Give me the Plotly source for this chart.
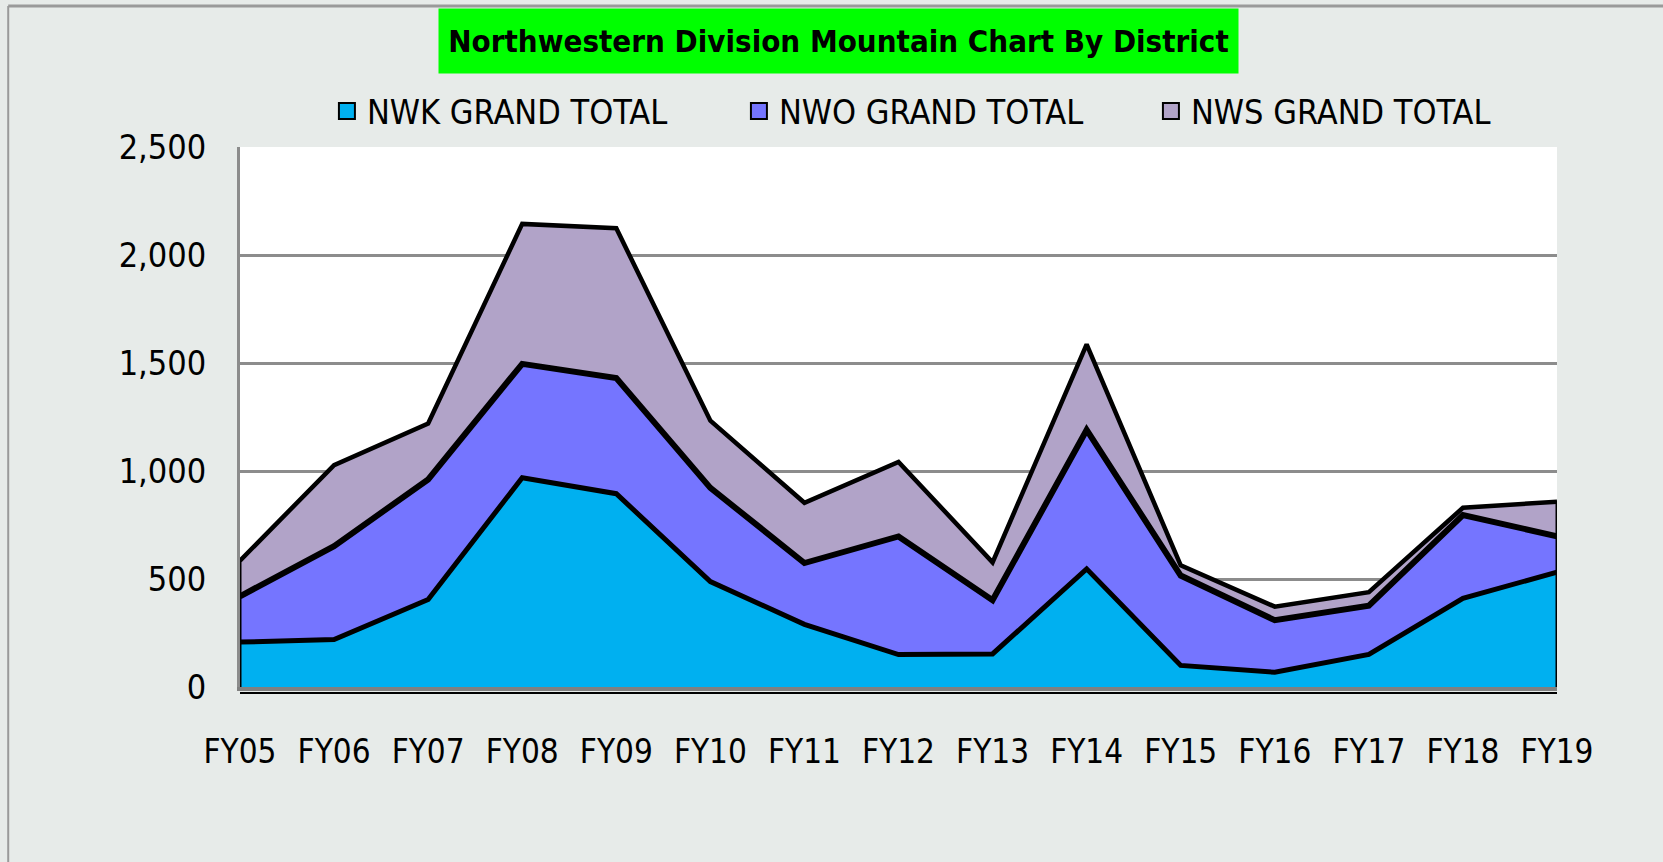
import plotly.graph_objects as go

categories = ["FY05", "FY06", "FY07", "FY08", "FY09", "FY10", "FY11", "FY12",
              "FY13", "FY14", "FY15", "FY16", "FY17", "FY18", "FY19"]
nwk = [208, 220, 405, 969, 895, 488, 290, 150, 153, 547, 100, 68, 151, 410, 532]
nwo = [212, 432, 556, 527, 535, 434, 284, 547, 249, 643, 416, 241, 225, 386, 166]
nws = [165, 375, 259, 648, 694, 311, 279, 345, 175, 396, 47, 63, 63, 34, 160]

series = [("NWK GRAND TOTAL", nwk, "#00b0f0", 5),
          ("NWO GRAND TOTAL", nwo, "#7575ff", 6),
          ("NWS GRAND TOTAL", nws, "#b1a3c8", 4.5)]

FONT = "DejaVu Sans Condensed, sans-serif"

fig = go.Figure()
for name, vals, col, lw in series:
    fig.add_trace(go.Scatter(
        x=categories, y=vals, name=name, mode="lines", stackgroup="one",
        fillcolor=col, line=dict(color="black", width=lw), showlegend=False,
        hoverinfo="x+y+name"))

totals = [a + b + c for a, b, c in zip(nwk, nwo, nws)]
for idx in (0, len(categories) - 1):
    fig.add_trace(go.Scatter(
        x=[categories[idx], categories[idx]], y=[0, totals[idx]], mode="lines",
        line=dict(color="black", width=3), showlegend=False, hoverinfo="skip",
        cliponaxis=False))

for name, vals, col, lw in series:
    fig.add_trace(go.Scatter(
        x=[None], y=[None], name=name, mode="markers",
        marker=dict(symbol="square", size=16, color=col,
                    line=dict(color="black", width=2))))

fig.update_layout(
    width=1663, height=862,
    margin=dict(l=240, r=106, t=147, b=175),
    paper_bgcolor="#e7ebe9", plot_bgcolor="white",
    font=dict(family=FONT, color="black"),
    showlegend=True,
    legend=dict(orientation="h", x=0.066, xanchor="left", y=1.066, yanchor="middle",
                traceorder="normal",
                font=dict(family=FONT, size=34, color="black"),
                bgcolor="rgba(0,0,0,0)", entrywidth=367, entrywidthmode="pixels",
                itemclick=False),
    annotations=[dict(
        text="<b>Northwestern Division Mountain Chart By District</b>",
        xref="paper", yref="paper", x=0.4544, y=1.196,
        xanchor="center", yanchor="middle", showarrow=False,
        width=797, height=62, bgcolor="#00ff00",
        font=dict(family=FONT, size=31, color="black"))],
    shapes=[
        dict(type="line", xref="paper", yref="paper", x0=-0.176, x1=1.1, y0=1.261, y1=1.261,
             line=dict(color="#9a9a9a", width=3)),
        dict(type="line", xref="paper", yref="paper", x0=-0.176, x1=-0.176, y0=-0.4, y1=1.261,
             line=dict(color="#9a9a9a", width=2)),
        dict(type="line", xref="paper", yref="paper", x0=0, x1=1.0, y0=-0.011, y1=-0.011,
             line=dict(color="black", width=2)),
    ],
)

fig.update_xaxes(
    type="category", range=[0, len(categories) - 1],
    showgrid=False, showline=True, linecolor="#808080", linewidth=4,
    ticks="", tickfont=dict(family=FONT, size=33, color="black"),
    ticklabelstandoff=32, zeroline=False, fixedrange=True)

fig.update_yaxes(
    range=[0, 2500], dtick=500, tickformat=",",
    showgrid=True, gridcolor="#8c8c8c", gridwidth=3,
    showline=True, linecolor="#8c8c8c", linewidth=3, mirror=False,
    ticks="", tickfont=dict(family=FONT, size=34, color="black"),
    ticklabelstandoff=24, zeroline=False, fixedrange=True)

fig.write_html("out.html", config={"displayModeBar": False},
               post_script="document.body.style.margin='0';")
